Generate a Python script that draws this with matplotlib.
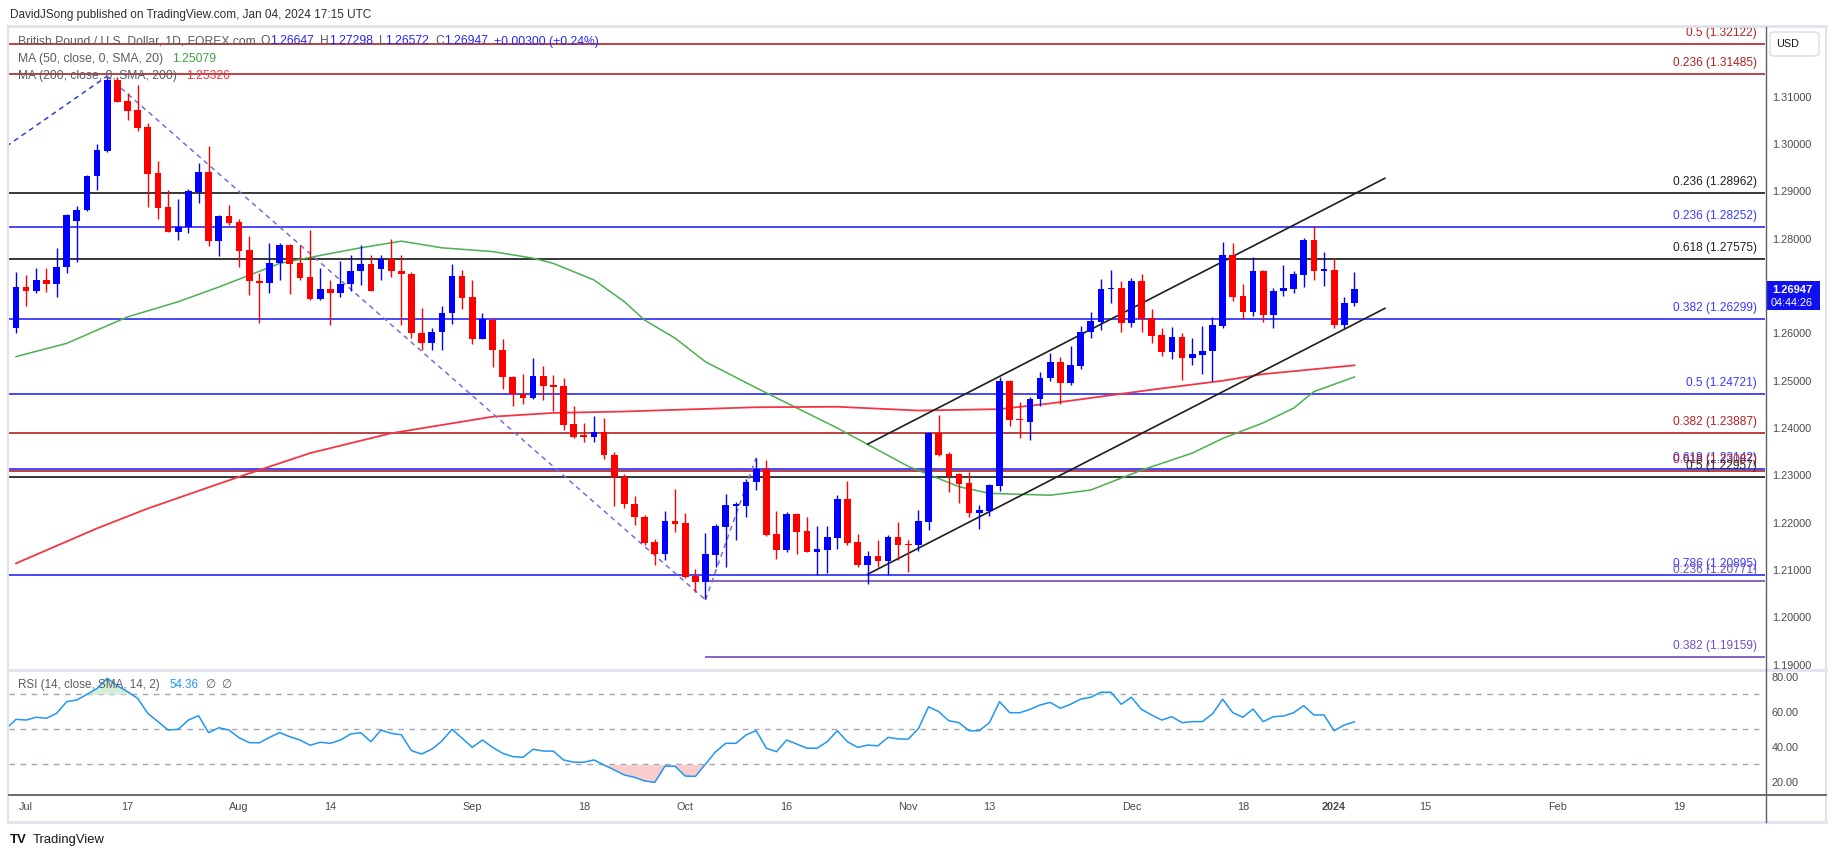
import matplotlib
matplotlib.use("Agg")
import matplotlib.pyplot as plt
from matplotlib import font_manager
from matplotlib.lines import Line2D
from matplotlib.patches import Rectangle, FancyBboxPatch
import numpy as np

names = {f.name for f in font_manager.fontManager.ttflist}
BASE = 'Liberation Sans' if 'Liberation Sans' in names else 'DejaVu Sans'
plt.rcParams['font.family'] = [BASE, 'DejaVu Sans']
plt.rcParams['lines.scale_dashes'] = False

# ---------------- data (GBP/USD daily, Jun 30 2023 -> Jan 4 2024) ----------------
opens = [1.2612,1.2699,1.2690,1.2713,1.2704,1.2740,1.2837,1.2860,1.2932,1.2986,
 1.3136,1.3092,1.3073,1.3037,1.2939,1.2868,1.2815,1.2824,1.2899,1.2941,
 1.2796,1.2848,1.2836,1.2777,1.2711,1.2707,1.2749,1.2786,1.2749,1.2720,
 1.2673,1.2694,1.2685,1.2704,1.2731,1.2747,1.2736,1.2757,1.2732,1.2726,
 1.2600,1.2579,1.2603,1.2643,1.2722,1.2676,1.2588,1.2628,1.2565,1.2507,
 1.2471,1.2464,1.2510,1.2490,1.2489,1.2408,1.2384,1.2382,1.2391,1.2343,
 1.2297,1.2240,1.2213,1.2160,1.2134,1.2204,1.2200,1.2088,1.2075,1.2132,
 1.2190,1.2236,1.2236,1.2285,1.2313,1.2176,1.2142,1.2219,1.2182,1.2139,
 1.2142,1.2168,1.2250,1.2159,1.2111,1.2130,1.2120,1.2169,1.2155,1.2153,
 1.2202,1.2389,1.2345,1.2302,1.2283,1.2221,1.2225,1.2278,1.2500,1.2418,
 1.2413,1.2462,1.2505,1.2539,1.2495,1.2532,1.2602,1.2625,1.2694,1.2696,
 1.2623,1.2711,1.2632,1.2597,1.2560,1.2592,1.2549,1.2555,1.2562,1.2616,
 1.2766,1.2679,1.2646,1.2732,1.2638,1.2689,1.2694,1.2724,1.2798,1.2733,
 1.2734,1.2617,1.26647]
highs = [1.2729,1.2724,1.2738,1.2738,1.2780,1.2853,1.2870,1.2935,1.3001,1.3141,
 1.3142,1.3108,1.3125,1.3044,1.2965,1.2903,1.2884,1.2905,1.2960,1.2997,
 1.2850,1.2872,1.2842,1.2806,1.2727,1.2792,1.2791,1.2788,1.2787,1.2819,
 1.2738,1.2713,1.2753,1.2766,1.2787,1.2766,1.2766,1.2799,1.2766,1.2729,
 1.2653,1.2611,1.2657,1.2746,1.2734,1.2713,1.2643,1.2632,1.2588,1.2510,
 1.2514,1.2549,1.2531,1.2512,1.2505,1.2447,1.2410,1.2426,1.2421,1.2349,
 1.2303,1.2257,1.2216,1.2165,1.2225,1.2271,1.2221,1.2102,1.2179,1.2197,
 1.2261,1.2243,1.2292,1.2337,1.2333,1.2225,1.2222,1.2221,1.2211,1.2193,
 1.2193,1.2259,1.2288,1.2176,1.2140,1.2163,1.2174,1.2201,1.2163,1.2227,
 1.2391,1.2428,1.2350,1.2304,1.2308,1.2237,1.2282,1.2507,1.2502,1.2456,
 1.2466,1.2518,1.2559,1.2550,1.2574,1.2616,1.2645,1.2715,1.2734,1.2711,
 1.2717,1.2726,1.2652,1.2612,1.2613,1.2601,1.2591,1.2616,1.2634,1.2794,
 1.2792,1.2705,1.2761,1.2734,1.2696,1.2745,1.2731,1.2802,1.2828,1.2773,
 1.2760,1.2678,1.27298]
lows = [1.2600,1.2658,1.2685,1.2687,1.2676,1.2727,1.2752,1.2858,1.2903,1.2984,
 1.3090,1.3051,1.3028,1.2868,1.2841,1.2815,1.2798,1.2812,1.2876,1.2784,
 1.2764,1.2829,1.2741,1.2681,1.2623,1.2686,1.2713,1.2684,1.2713,1.2671,
 1.2671,1.2617,1.2676,1.2690,1.2703,1.2689,1.2712,1.2720,1.2618,1.2591,
 1.2565,1.2565,1.2565,1.2620,1.2651,1.2578,1.2588,1.2530,1.2483,1.2447,
 1.2451,1.2462,1.2459,1.2435,1.2396,1.2380,1.2371,1.2371,1.2334,1.2235,
 1.2232,1.2195,1.2153,1.2111,1.2121,1.2180,1.2084,1.2054,1.2038,1.2107,
 1.2107,1.2163,1.2213,1.2269,1.2172,1.2123,1.2139,1.2134,1.2137,1.2090,
 1.2094,1.2144,1.2153,1.2106,1.2070,1.2107,1.2090,1.2121,1.2096,1.2141,
 1.2185,1.2340,1.2264,1.2242,1.2213,1.2187,1.2215,1.2266,1.2405,1.2379,
 1.2375,1.2447,1.2500,1.2451,1.2490,1.2525,1.2591,1.2607,1.2665,1.2604,
 1.2614,1.2604,1.2579,1.2553,1.2546,1.2502,1.2533,1.2514,1.2500,1.2612,
 1.2669,1.2630,1.2637,1.2625,1.2612,1.2679,1.2686,1.2699,1.2713,1.2701,
 1.2612,1.2611,1.26572]
closes = [1.2699,1.2690,1.2713,1.2704,1.2740,1.2851,1.2861,1.2933,1.2988,1.3136,
 1.3090,1.3071,1.3035,1.2938,1.2866,1.2815,1.2824,1.2901,1.2941,1.2796,
 1.2848,1.2834,1.2775,1.2710,1.2707,1.2749,1.2786,1.2747,1.2718,1.2673,
 1.2694,1.2685,1.2704,1.2732,1.2747,1.2689,1.2757,1.2731,1.2725,1.2600,
 1.2579,1.2603,1.2643,1.2722,1.2675,1.2588,1.2630,1.2564,1.2507,1.2471,
 1.2464,1.2510,1.2489,1.2487,1.2407,1.2382,1.2382,1.2391,1.2342,1.2296,
 1.2239,1.2211,1.2156,1.2134,1.2204,1.2197,1.2086,1.2075,1.2134,1.2192,
 1.2237,1.2238,1.2285,1.2313,1.2174,1.2142,1.2219,1.2181,1.2139,1.2144,
 1.2169,1.2250,1.2158,1.2111,1.2130,1.2120,1.2169,1.2153,1.2153,1.2204,
 1.2389,1.2343,1.2299,1.2282,1.2221,1.2227,1.2280,1.2500,1.2416,1.2416,
 1.2462,1.2505,1.2539,1.2495,1.2533,1.2602,1.2626,1.2693,1.2696,1.2623,
 1.2711,1.2630,1.2595,1.2560,1.2592,1.2549,1.2557,1.2563,1.2618,1.2766,
 1.2678,1.2646,1.2732,1.2638,1.2690,1.2696,1.2726,1.2798,1.2733,1.2735,
 1.2617,1.2664,1.26947]

# moving averages read at selected bars
ma50_idx = [0,5,11,16,20,26,31,34,38,42,47,51,53,57,60,62,65,68,73,81,88,93,96,102,106,111,116,119,123,126,128,132]
ma50_val = [1.2551,1.2579,1.2635,1.2667,1.2698,1.2748,1.2769,1.2781,1.2795,1.2781,1.2773,1.2759,1.2748,1.2713,
            1.2667,1.2628,1.2590,1.2540,1.2485,1.2400,1.2319,1.2276,1.2262,1.2258,1.2269,1.2311,1.2347,1.2378,
            1.2411,1.2442,1.2477,1.25079]
ma200_idx = [0,8,13,22,29,37,47,53,60,73,81,89,97,102,112,119,123,132]
ma200_val = [1.2114,1.2188,1.2230,1.2297,1.2347,1.2389,1.2424,1.2432,1.2435,1.2444,1.2445,1.2437,1.2440,
             1.2452,1.2481,1.2500,1.2514,1.25326]

# RSI(14) per bar, starting one bar before the first candle
rsi_start = -1
rsi = [50.3,
 55.8,55.4,57.0,56.4,59.2,65.9,66.9,70.1,73.5,79.3,
 75.0,71.6,67.8,59.2,54.5,49.7,50.1,55.4,57.9,48.2,
 51.0,49.7,45.3,42.5,42.4,45.5,48.2,45.9,44.0,41.0,
 42.7,42.1,44.0,47.4,48.2,43.0,49.7,47.8,47.0,37.9,
 36.0,38.7,43.4,50.1,45.0,39.8,44.0,39.8,36.4,34.5,
 34.1,38.7,37.7,37.6,32.6,31.3,31.3,32.6,29.7,26.9,
 24.0,22.7,20.6,19.8,29.1,29.0,23.4,23.2,30.3,37.3,
 42.1,42.1,46.9,49.3,39.3,37.3,44.0,41.7,39.3,39.3,
 43.0,49.3,43.0,39.8,41.1,40.7,45.5,44.6,44.5,50.5,
 63.0,60.2,55.0,53.9,49.3,49.3,53.9,65.9,59.6,59.6,
 61.5,64.0,65.5,62.1,64.4,67.4,68.4,71.3,71.3,64.4,
 68.4,61.5,58.3,55.4,57.3,53.9,54.5,54.5,58.9,67.3,
 59.6,57.0,61.7,54.5,57.3,57.7,59.6,63.6,58.3,58.3,
 49.3,52.6,54.36]

# Fibonacci / horizontal levels: value, label, colour key, first bar
DR, BL, BK, PU = '#a80f0f', '#1515f5', '#000000', '#673ab7'
level_vals = [1.32122, 1.31485, 1.28962, 1.28252, 1.27575, 1.26299, 1.24721, 1.23887,
              1.23142, 1.23087, 1.22957, 1.20895, 1.20771, 1.19159]
level_lbls = ['0.5 (1.32122)', '0.236 (1.31485)', '0.236 (1.28962)', '0.236 (1.28252)',
              '0.618 (1.27575)', '0.382 (1.26299)', '0.5 (1.24721)', '0.382 (1.23887)',
              '0.618 (1.23142)', '0.618 (1.23087)', '0.5 (1.22957)', '0.786 (1.20895)',
              '0.236 (1.20771)', '0.382 (1.19159)']
level_cols = [DR, DR, BK, BL, BK, BL, BL, DR, BL, DR, BK, BL, PU, PU]
level_from = [None]*12 + [68, 68]

# drawn trend lines (bar index, price anchors)
fib_leg1 = ([-5, 9], [1.2935, 1.3144])
fib_leg2 = ([9, 68], [1.3144, 1.2037])
fib_leg3 = ([68, 73], [1.2037, 1.2337])
chan_up = ([84, 135], [1.2366, 1.2928])
chan_lo = ([84, 135], [1.2091, 1.2653])

xtick_idx = [1, 11, 22, 31, 45, 56, 66, 76, 88, 96, 110, 121, 130, 139, 152, 164]
xtick_lbl = ['Jul', '17', 'Aug', '14', 'Sep', '18', 'Oct', '16', 'Nov', '13', 'Dec', '18', '2024', '15', 'Feb', '19']
ytick_price = [1.19, 1.20, 1.21, 1.22, 1.23, 1.24, 1.25, 1.26, 1.28, 1.29, 1.30, 1.31]
ytick_rsi = [20, 40, 60, 80]

# ---------------- figure ----------------
W, H = 1835, 857
fig = plt.figure(figsize=(W / 100, H / 100), dpi=100)
fig.patch.set_facecolor('white')

def fx(x):
    return x / W

def fy(y):
    return 1 - y / H

XL = (-0.69, 172.49)
ax = fig.add_axes([fx(9), fy(669), fx(1765) - fx(9), fy(27) - fy(669)])
axr = fig.add_axes([fx(9), fy(794), fx(1765) - fx(9), fy(670) - fy(794)])
for a in (ax, axr):
    for s in a.spines.values():
        s.set_visible(False)
    a.set_facecolor('none')
    a.set_xlim(*XL)
ax.set_ylim(1.18907, 1.32477)
axr.set_ylim(13.14, 84.0)

UP, DN = '#0000ff', '#ff0000'
o = np.array(opens); h = np.array(highs); l = np.array(lows); c = np.array(closes)
idx = np.arange(len(o))
cols = np.where(c >= o, UP, DN)
ax.vlines(idx, l, h, colors=cols, linewidth=1.0, zorder=5)
ax.bar(idx, np.maximum(np.abs(c - o), 0.00025), width=0.66, bottom=np.minimum(o, c),
       color=cols, linewidth=0, zorder=6)

# levels
for v, lb, col, st in zip(level_vals, level_lbls, level_cols, level_from):
    x0 = XL[0] if st is None else st
    ax.hlines(v, x0, XL[1], color=col, linewidth=1.1, zorder=2)
    tcol = {DR: '#b22222', BL: '#3a3aff', BK: '#222222', PU: '#6f52c0'}[col]
    ax.annotate(lb, xy=(1, v), xycoords=('axes fraction', 'data'), xytext=(-8, 11),
                textcoords='offset pixels', ha='right', va='center', fontsize=8.6,
                color=tcol, zorder=8)

# moving averages
ax.plot(ma50_idx, ma50_val, color='#4caf50', linewidth=1.1, zorder=3)
ax.plot(ma200_idx, ma200_val, color='#f23645', linewidth=1.3, zorder=3)

# fib trend legs and channel
ax.plot(*fib_leg1, color='#2b3fd9', linewidth=1.1, linestyle=(0, (3.6, 3.0)), zorder=4)
ax.plot(*fib_leg2, color='#7a6ed6', linewidth=1.1, linestyle=(0, (3.6, 3.0)), zorder=4)
ax.plot(*fib_leg3, color='#7a6ed6', linewidth=1.1, linestyle=(0, (3.6, 3.0)), zorder=4)
ax.plot(*chan_up, color='#1e1e1e', linewidth=1.2, zorder=4)
ax.plot(*chan_lo, color='#1e1e1e', linewidth=1.2, zorder=4)

# price scale
ax.set_xticks([])
ax.yaxis.tick_right()
ax.set_yticks(ytick_price)
ax.set_yticklabels([f"{v:.5f}" for v in ytick_price])
ax.tick_params(axis='y', length=0, pad=5, labelsize=7.8, labelcolor='#4a4a4a')

# RSI panel
ri = np.arange(rsi_start, rsi_start + len(rsi))
rv = np.array(rsi)
for lvl in (70, 50, 30):
    axr.axhline(lvl, color='#a3a6ae', linewidth=1.0, linestyle=(0, (4, 4)), zorder=1)
axr.fill_between(ri, rv, 30, where=rv < 30, interpolate=True, color='#f9cdcd', linewidth=0, zorder=2)
axr.fill_between(ri, rv, 70, where=rv > 70, interpolate=True, color='#d5ecd6', linewidth=0, zorder=2)
axr.plot(ri, rv, color='#2196f3', linewidth=1.1, zorder=3)
axr.yaxis.tick_right()
axr.set_yticks(ytick_rsi)
axr.set_yticklabels([f"{v:.2f}" for v in ytick_rsi])
axr.tick_params(axis='y', length=0, pad=5, labelsize=7.8, labelcolor='#4a4a4a')
axr.set_xticks(xtick_idx)
axr.set_xticklabels(xtick_lbl)
axr.tick_params(axis='x', length=0, pad=6, labelsize=7.8, labelcolor='#4a4a4a')
for t in axr.get_xticklabels():
    if t.get_text() == '2024':
        t.set_fontweight('bold')

# ---------------- frame & decorations ----------------
def fline(x0, y0, x1, y1, col, lw):
    fig.add_artist(Line2D([fx(x0), fx(x1)], [fy(y0), fy(y1)], color=col, linewidth=lw,
                          transform=fig.transFigure))

FR = '#e0e3eb'
fline(8, 26, 1826, 26, FR, 2.0)
fline(8, 822, 1826, 822, FR, 2.0)
fline(8, 26, 8, 822, FR, 1.5)
fline(1826, 26, 1826, 822, FR, 1.5)
fline(8, 670, 1826, 670, FR, 2.0)
fline(9, 794.5, 1826, 794.5, '#5d606b', 1.3)
fline(1765.5, 27, 1765.5, 822, '#5d606b', 1.0)

# price tag
fig.add_artist(Rectangle((fx(1766), fy(310)), fx(1820) - fx(1766), fy(281) - fy(310),
                         transform=fig.transFigure, facecolor='#1010f0', edgecolor='none'))
fig.text(fx(1792), fy(290), '1.26947', color='white', fontsize=8, fontweight='bold',
         ha='center', va='center')
fig.text(fx(1792), fy(302.5), '04:44:26', color='white', fontsize=7.8, ha='center', va='center')

# currency box
fig.add_artist(FancyBboxPatch((fx(1770), fy(56)), fx(1819) - fx(1770), fy(32) - fy(56),
                              boxstyle='round,pad=0,rounding_size=0.003', transform=fig.transFigure,
                              facecolor='white', edgecolor=FR, linewidth=1.2))
fig.text(fx(1788), fy(44), 'USD', color='#131722', fontsize=7.8, ha='center', va='center')

# header
fig.text(fx(10), fy(15), 'DavidJSong published on TradingView.com, Jan 04, 2024 17:15 UTC',
         color='#2a2e39', fontsize=8.5, ha='left', va='center')

renderer = fig.canvas.get_renderer()

def seq_text(x, y, pieces, size):
    for s, col, gap in pieces:
        t = fig.text(fx(x), fy(y), s, color=col, fontsize=size, ha='left', va='center')
        x += t.get_window_extent(renderer=renderer).width + gap

GR = '#5a5d66'
VB = '#2626ff'
seq_text(18, 41.5, [('British Pound / U.S. Dollar, 1D, FOREX.com', GR, 5),
                    ('O', GR, 0), ('1.26647', VB, 6),
                    ('H', GR, 0), ('1.27298', VB, 6),
                    ('L', GR, 0), ('1.26572', VB, 6),
                    ('C', GR, 0), ('1.26947', VB, 6),
                    ('+0.00300 (+0.24%)', VB, 0)], 8.7)
seq_text(18, 59, [('MA (50, close, 0, SMA, 20)', GR, 9), ('1.25079', '#43a047', 0)], 8.7)
seq_text(18, 76, [('MA (200, close, 0, SMA, 200)', GR, 9), ('1.25326', '#f23645', 0)], 8.7)
seq_text(17.5, 685, [('RSI (14, close, SMA, 14, 2)', GR, 10), ('54.36', '#2196f3', 7),
                     ('\u2205', GR, 6), ('\u2205', GR, 0)], 8.4)

# brand mark
fig.text(fx(10), fy(840), 'TV', color='#131722', fontsize=9.5, fontweight='bold',
         ha='left', va='center')
fig.text(fx(33), fy(840), 'TradingView', color='#131722', fontsize=9.4, ha='left', va='center')

fig.savefig('out.png', dpi=100, facecolor='white')
